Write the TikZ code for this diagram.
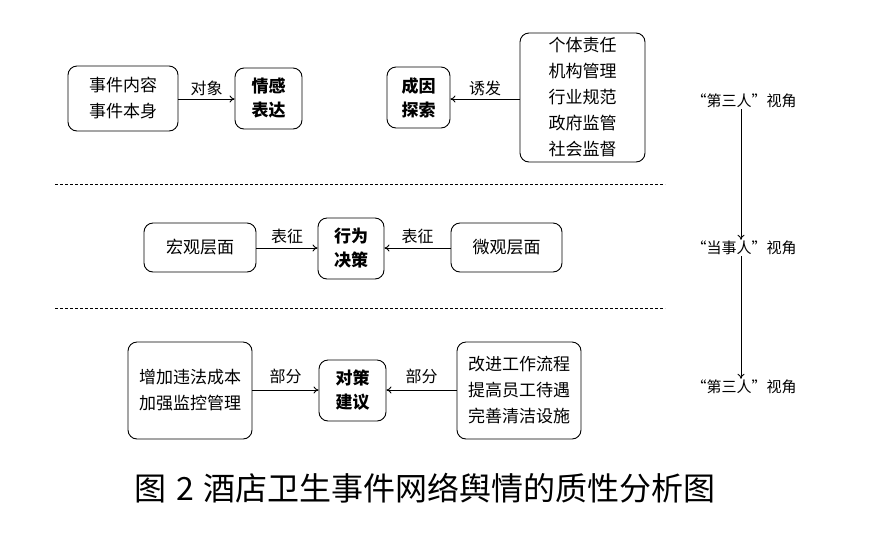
\documentclass[tikz,border=0pt]{standalone}
\usepackage{fontspec}
\setmainfont{Noto Sans CJK SC}
\newfontfamily\capfont{Noto Sans CJK SC}
\usetikzlibrary{arrows.meta}
\tikzset{
  box/.style={draw, line width=0.9pt, rounded corners=9pt, align=center, inner sep=0pt, font=\fontsize{17}{26}\selectfont},
  bbox/.style={box, font=\fontsize{17}{24}\selectfont\bfseries},
  arr/.style={line width=0.9pt, -{To[length=5pt,width=7pt]}},
  lbl/.style={font=\fontsize{16}{18}\selectfont, inner sep=1pt},
  sep/.style={line width=0.9pt, dash pattern=on 3pt off 2pt},
  view/.style={font=\fontsize{15}{16}\selectfont, inner sep=1pt}
}
\begin{document}
\begin{tikzpicture}[x=1pt,y=-1pt]
\useasboundingbox (0,0) rectangle (870,539);
% row 1
\node[box, minimum width=110pt, minimum height=65pt] (a) at (123,98.5) {事件内容\\事件本身};
\node[bbox, minimum width=67pt, minimum height=61pt] (b) at (268.5,98.5) {情感\\表达};
\draw[arr] (a.east |- 0,99) -- (b.west |- 0,99) node[lbl, midway, above=2pt] {对象};
\node[bbox, minimum width=63pt, minimum height=61pt] (c) at (418.5,97.5) {成因\\探索};
\node[box, minimum width=125pt, minimum height=129pt] (d) at (582.5,97.5) {个体责任\\机构管理\\行业规范\\政府监管\\社会监督};
\draw[arr] (d.west |- 0,99) -- (c.east |- 0,99) node[lbl, midway, above=2pt] {诱发};
\coordinate (s1l) at (55,184); \coordinate (s1r) at (665,184);
\draw[sep] (s1l) -- (s1r);
% row 2
\node[box, minimum width=112pt, minimum height=49pt] (e) at (200,247.5) {宏观层面};
\node[bbox, minimum width=66pt, minimum height=61pt] (f) at (351,248.5) {行为\\决策};
\node[box, minimum width=111pt, minimum height=49pt] (g) at (506.5,247.5) {微观层面};
\draw[arr] (e.east |- 0,248) -- (f.west |- 0,248) node[lbl, midway, above=3pt] {表征};
\draw[arr] (g.west |- 0,248) -- (f.east |- 0,248) node[lbl, midway, above=3pt] {表征};
\coordinate (s2l) at (55,308); \coordinate (s2r) at (665,308);
\draw[sep] (s2l) -- (s2r);
% row 3
\node[box, minimum width=124pt, minimum height=97pt] (h) at (190,390.5) {增加违法成本\\加强监控管理};
\node[bbox, minimum width=67pt, minimum height=61pt] (i) at (352.5,390.5) {对策\\建议};
\node[box, minimum width=124pt, minimum height=97pt] (j) at (519,390.5) {改进工作流程\\提高员工待遇\\完善清洁设施};
\draw[arr] (h.east |- 0,390) -- (i.west |- 0,390) node[lbl, midway, above=5pt] {部分};
\draw[arr] (j.west |- 0,390) -- (i.east |- 0,390) node[lbl, midway, above=5pt] {部分};
% right column
\node[view] (v1) at (744,101) {“第三人”视角};
\node[view] (v2) at (744,248) {“当事人”视角};
\node[view] (v3) at (744,387) {“第三人”视角};
\draw[arr] (v1.south -| 741,0) -- (v2.north -| 741,0);
\draw[arr] (v2.south -| 741,0) -- (v3.north -| 741,0);
% caption
\node[font=\capfont\fontsize{32}{34}\selectfont, inner sep=0pt] (cap) at (425,488) {图\hspace{10pt}2\hspace{10pt}酒店卫生事件网络舆情的质性分析图};
\end{tikzpicture}
\end{document}
